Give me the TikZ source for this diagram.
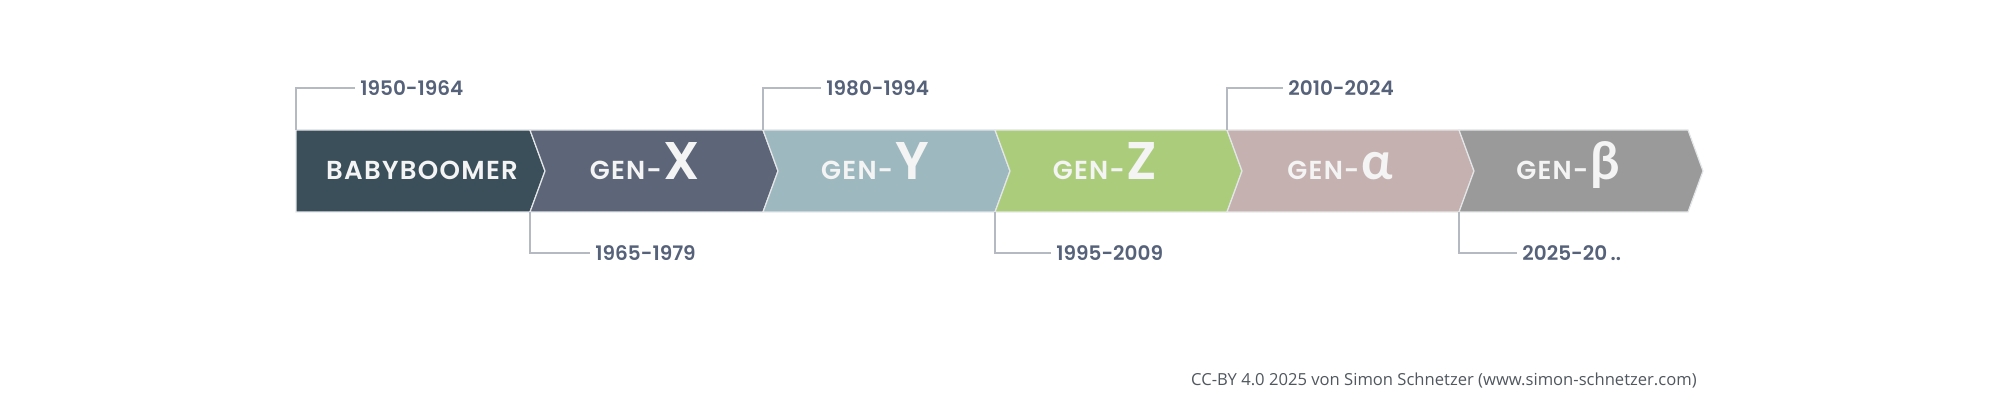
\documentclass[tikz,border=0pt]{standalone}
\usepackage{fontspec}
\setmainfont{Poppins}
\newfontfamily\popsb{Poppins SemiBold}
\newfontfamily\popm{Poppins Medium}
\newfontfamily\popsbls{Poppins SemiBold}[LetterSpace=5]
\newfontfamily\grk{Lato}
\newfontfamily\osans{Open Sans}
\newcommand\genbigfont{\popsb\fontsize{26.5}{28}\selectfont}
\newcommand\gengreekfont{\grk\bfseries\fontsize{26}{28}\selectfont}
\definecolor{cBB}{HTML}{3B4F5B}
\definecolor{cX}{HTML}{5D6679}
\definecolor{cY}{HTML}{9EB8BF}
\definecolor{cZ}{HTML}{ABCD7B}
\definecolor{cA}{HTML}{C6B1B1}
\definecolor{cBe}{HTML}{9A9A9A}
\definecolor{yeartxt}{HTML}{56627A}
\definecolor{leadc}{HTML}{B5BAC2}
\definecolor{cctxt}{HTML}{50575E}
\definecolor{segline}{HTML}{E4E6E8}
\definecolor{intxt}{HTML}{F4F4F4}
\begin{document}
\begin{tikzpicture}[x=0.5pt,y=-0.5pt,
  segment/.style={draw=segline, line width=0.6pt, line join=miter},
  leader/.style={draw=leadc, line width=0.7pt},
  year/.style={inner xsep=2.5pt, inner ysep=0pt, text=yeartxt, font=\popsb\fontsize{10}{12}\selectfont},
  bartxt/.style={anchor=base, inner sep=0pt, text=intxt, font=\popsbls\fontsize{13}{15}\selectfont}]
\useasboundingbox (0,0) rectangle (2000,400);
% segments
\fill[cBB, segment] (296,130) -- (530,130) -- (545,171) -- (530,212) -- (296,212) -- cycle;
\fill[cX, segment] (530,130) -- (763,130) -- (778,171) -- (763,212) -- (530,212) -- (545,171) -- cycle;
\fill[cY, segment] (763,130) -- (995,130) -- (1010,171) -- (995,212) -- (763,212) -- (778,171) -- cycle;
\fill[cZ, segment] (995,130) -- (1227,130) -- (1242,171) -- (1227,212) -- (995,212) -- (1010,171) -- cycle;
\fill[cA, segment] (1227,130) -- (1459,130) -- (1474,171) -- (1459,212) -- (1227,212) -- (1242,171) -- cycle;
\fill[cBe, segment] (1459,130) -- (1688,130) -- (1703,171) -- (1688,212) -- (1459,212) -- (1474,171) -- cycle;
% corner coordinates
\coordinate (t0) at (296,130);
\coordinate (b1) at (530,212);
\coordinate (t2) at (763,130);
\coordinate (b3) at (995,212);
\coordinate (t4) at (1227,130);
\coordinate (b5) at (1459,212);
% bar texts
\node[bartxt] (n0) at (422,180) {BABYBOOMER};
\node[bartxt] (n1) at (645,180) {GEN-\kern1pt{\genbigfont X}};
\node[bartxt] (n2) at (875,180) {GEN-\kern1pt{\genbigfont Y}};
\node[bartxt] (n3) at (1105,180) {GEN-\kern1pt{\genbigfont Z}};
\node[bartxt] (n4) at (1340,180) {GEN-\kern1pt{\gengreekfont α}};
\node[bartxt] (n5) at (1568,180) {GEN-\kern1pt{\gengreekfont β}};
% year labels
\node[year, anchor=west] (y0) at (355,88) {1950-1964};
\node[year, anchor=west] (y1) at (590,253) {1965-1979};
\node[year, anchor=west] (y2) at (821,88) {1980-1994};
\node[year, anchor=west] (y3) at (1051,253) {1995-2009};
\node[year, anchor=west] (y4) at (1283,88) {2010-2024};
\node[year, anchor=west] (y5) at (1517,253) {2025-20\,..};
\draw[leader] (t0) |- (y0.west);
\draw[leader] (b1) |- (y1.west);
\draw[leader] (t2) |- (y2.west);
\draw[leader] (b3) |- (y3.west);
\draw[leader] (t4) |- (y4.west);
\draw[leader] (b5) |- (y5.west);
% credit
\node[anchor=base east, inner sep=0pt, text=cctxt, font=\osans\fontsize{8.3}{10}\selectfont] (cc) at (1697,386) {CC-BY 4.0 2025 von Simon Schnetzer (www.simon-schnetzer.com)};
\end{tikzpicture}
\end{document}
